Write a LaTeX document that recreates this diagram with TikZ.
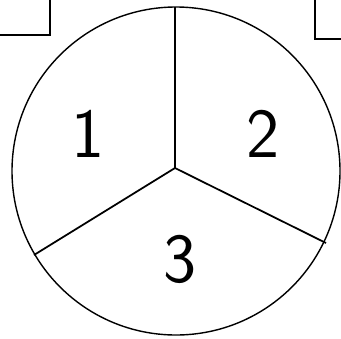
\documentclass[tikz,border=0pt]{standalone}

\begin{document}
\begin{tikzpicture}[x=0.02cm,y=-0.02cm,
    rim/.style={line width=0.8pt},
    spoke/.style={line width=1pt},
    corner/.style={line width=1.3pt},
    sector/.style={font=\sffamily\fontsize{40}{40}\selectfont,inner sep=0pt}]
    \useasboundingbox (0,0) rectangle (341,338);
    \clip (0,0) rectangle (341,338);
    % boxes cut off at the top corners
    \draw[corner] (-20,-20) rectangle (50,35);
    \draw[corner] (315,-20) rectangle (380,39);
    % the disc and its three parts
    \draw[rim] (176,171) circle[radius=164];
    \coordinate (hub) at (175,168);
    \coordinate (top) at (175,7);
    \coordinate (lower left) at (34,255);
    \coordinate (lower right) at (326,243);
    \draw[spoke] (hub) -- (top);
    \draw[spoke] (hub) -- (lower left);
    \draw[spoke] (hub) -- (lower right);
    \node[sector] (one) at (88,134) {1};
    \node[sector] (two) at (263,134) {2};
    \node[sector] (three) at (180,259) {3};
  \end{tikzpicture}
\end{document}
